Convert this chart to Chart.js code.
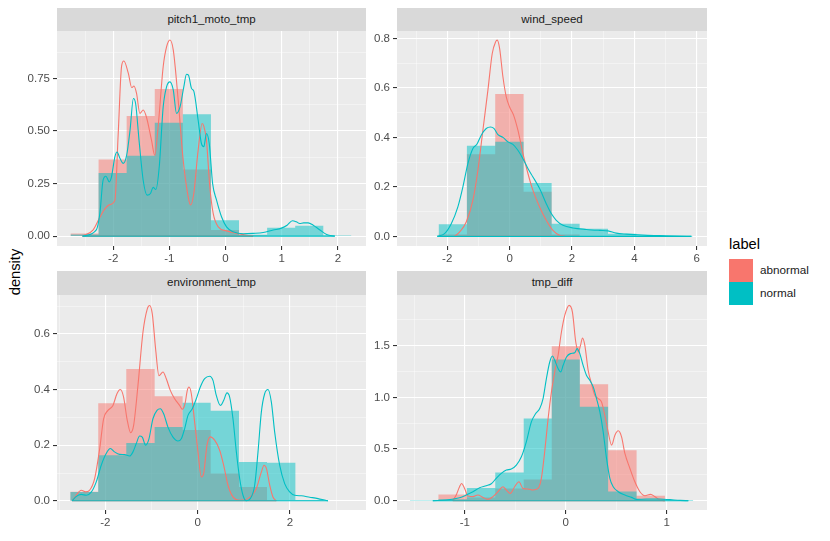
<!DOCTYPE html>
<html>
<head>
<meta charset="utf-8">
<script src="https://cdn.jsdelivr.net/npm/chart.js@4.4.1/dist/chart.umd.min.js"></script>
<style>
  body { margin: 0; background: #fff; width: 830px; height: 541px; position: relative; overflow: hidden;
         font-family: "Liberation Sans", Arial, sans-serif; }
  canvas { position: absolute; }
  .strip { position: absolute; background: #d9d9d9; color: #1a1a1a; font-size: 11.5px; text-align: center;
           height: 23.5px; line-height: 23.5px; }
  .ytitle { position: absolute; left: 15px; top: 272px; font-size: 14.7px; color: #000;
            transform: translate(-50%, -50%) rotate(-90deg); }
  .legtitle { position: absolute; left: 729px; top: 236px; font-size: 14.7px; color: #000; }
  .key { position: absolute; left: 729px; width: 22px; height: 21.5px; }
  .keylab { position: absolute; left: 760px; font-size: 11.7px; color: #1a1a1a; }
</style>
</head>
<body>
<div class="strip" style="left:57px;top:7.5px;width:309px">pitch1_moto_tmp</div>
<div class="strip" style="left:397px;top:7.5px;width:310px">wind_speed</div>
<div class="strip" style="left:57px;top:271px;width:309px">environment_tmp</div>
<div class="strip" style="left:397px;top:271px;width:310px">tmp_diff</div>
<div class="ytitle">density</div>
<div class="legtitle">label</div>
<div class="key" style="top:258.5px;background:#F8766D;border:0.5px solid rgba(248,118,109,0.5)"></div>
<div class="keylab" style="top:263px">abnormal</div>
<div class="key" style="top:281.5px;background:#00BFC4;border:0.5px solid rgba(0,191,196,0.5)"></div>
<div class="keylab" style="top:286px">normal</div>
<canvas id="p1"></canvas>
<canvas id="p2"></canvas>
<canvas id="p3"></canvas>
<canvas id="p4"></canvas>
<script>
// ---- pitch1_moto_tmp ----
const pitchEdges = [-2.76, -2.26, -1.76, -1.26, -0.76, -0.26, 0.24, 0.74, 1.24, 1.74, 2.24];
const pitchAbnormalHist = [0.013, 0.365, 0.571, 0.70, 0.317, 0.029, 0.003, 0, 0, 0];
const pitchNormalHist = [0.008, 0.30, 0.382, 0.54, 0.58, 0.076, 0.006, 0.04, 0.049, 0.003];
const pitchAbnormalDens = [[-2.546,0],[-2.356,0.03],[-2.237,0.09],[-2.148,0.13],[-2.06,0.15],[-1.97,0.17],[-1.91,0.49],[-1.85,0.81],[-1.81,0.833],[-1.73,0.774],[-1.67,0.707],[-1.63,0.714],[-1.585,0.68],[-1.525,0.584],[-1.466,0.60],[-1.41,0.568],[-1.318,0.457],[-1.26,0.385],[-1.2,0.52],[-1.11,0.806],[-1.05,0.90],[-0.99,0.933],[-0.93,0.885],[-0.843,0.647],[-0.754,0.362],[-0.665,0.187],[-0.624,0.148],[-0.565,0.203],[-0.488,0.409],[-0.416,0.536],[-0.387,0.523],[-0.34,0.457],[-0.28,0.235],[-0.22,0.108],[-0.13,0.044],[0.017,0.025],[0.195,0.013],[0.40,0.003],[0.49,0]];
const pitchNormalDens = [[-2.546,0],[-2.3,0.03],[-2.237,0.108],[-2.18,0.266],[-2.13,0.285],[-2.07,0.258],[-2.03,0.282],[-1.97,0.377],[-1.93,0.40],[-1.88,0.37],[-1.82,0.346],[-1.76,0.385],[-1.70,0.504],[-1.64,0.655],[-1.60,0.63],[-1.54,0.457],[-1.466,0.266],[-1.395,0.195],[-1.336,0.203],[-1.29,0.232],[-1.24,0.222],[-1.18,0.33],[-1.11,0.615],[-1.05,0.71],[-0.99,0.734],[-0.93,0.695],[-0.873,0.584],[-0.81,0.615],[-0.743,0.71],[-0.695,0.77],[-0.66,0.766],[-0.606,0.703],[-0.565,0.69],[-0.488,0.552],[-0.43,0.441],[-0.387,0.425],[-0.34,0.488],[-0.29,0.44],[-0.23,0.25],[-0.16,0.171],[-0.072,0.092],[0.017,0.044],[0.135,0.021],[0.313,0.011],[0.49,0.013],[0.67,0.017],[0.847,0.029],[0.995,0.038],[1.096,0.052],[1.19,0.073],[1.26,0.068],[1.32,0.06],[1.39,0.063],[1.47,0.063],[1.56,0.052],[1.68,0.029],[1.80,0.008],[1.944,0]];
const pitchXTicks = [-2, -1, 0, 1, 2];
const pitchXLabels = ['-2', '-1', '0', '1', '2'];
const pitchYTicks = [0, 0.25, 0.5, 0.75];
const pitchYLabels = ['0.00', '0.25', '0.50', '0.75'];

// ---- wind_speed ----
const windEdges = [-2.278, -1.369, -0.46, 0.449, 1.348, 2.246, 3.155, 4.064, 4.973, 5.882];
const windAbnormalHist = [0.007, 0.332, 0.575, 0.18, 0.007, 0, 0, 0, 0];
const windNormalHist = [0.049, 0.366, 0.382, 0.216, 0.051, 0.031, 0.011, 0.003, 0.001];
const windAbnormalDens = [[-1.765,0],[-1.60,0.018],[-1.39,0.058],[-1.176,0.146],[-1.016,0.267],[-0.856,0.429],[-0.695,0.591],[-0.556,0.739],[-0.449,0.786],[-0.396,0.793],[-0.32,0.76],[-0.214,0.645],[-0.107,0.564],[0,0.523],[0.128,0.49],[0.267,0.429],[0.428,0.335],[0.588,0.254],[0.749,0.186],[0.963,0.119],[1.176,0.065],[1.39,0.024],[1.604,0.004],[1.765,0]];
const windNormalDens = [[-2.32,0],[-2.085,0.011],[-1.87,0.051],[-1.658,0.119],[-1.497,0.20],[-1.337,0.294],[-1.176,0.355],[-1.048,0.372],[-0.909,0.409],[-0.749,0.436],[-0.61,0.442],[-0.503,0.436],[-0.374,0.411],[-0.214,0.40],[-0.053,0.382],[0.107,0.372],[0.267,0.348],[0.428,0.314],[0.588,0.274],[0.749,0.24],[0.963,0.193],[1.176,0.132],[1.337,0.092],[1.497,0.065],[1.711,0.045],[2.032,0.034],[2.46,0.028],[2.888,0.024],[3.155,0.022],[3.42,0.013],[3.743,0.009],[4.278,0.005],[4.81,0.003],[5.35,0.001],[5.83,0]];
const windXTicks = [-2, 0, 2, 4, 6];
const windXLabels = ['-2', '0', '2', '4', '6'];
const windYTicks = [0, 0.2, 0.4, 0.6, 0.8];
const windYLabels = ['0.0', '0.2', '0.4', '0.6', '0.8'];

// ---- environment_tmp ----
const envEdges = [-2.758, -2.152, -1.545, -0.931, -0.325, 0.282, 0.895, 1.502, 2.116, 2.73];
const envAbnormalHist = [0.033, 0.351, 0.474, 0.376, 0.255, 0.098, 0.05, 0, 0];
const envNormalHist = [0.032, 0.164, 0.208, 0.265, 0.353, 0.324, 0.14, 0.137, 0.003];
const envAbnormalDens = [[-2.715,0],[-2.63,0.02],[-2.52,0.038],[-2.426,0.032],[-2.34,0.038],[-2.23,0.08],[-2.12,0.188],[-2.036,0.295],[-1.942,0.325],[-1.834,0.343],[-1.747,0.385],[-1.675,0.40],[-1.603,0.373],[-1.53,0.295],[-1.45,0.245],[-1.386,0.271],[-1.292,0.415],[-1.184,0.606],[-1.09,0.69],[-1.04,0.702],[-0.982,0.672],[-0.91,0.546],[-0.838,0.45],[-0.751,0.463],[-0.679,0.439],[-0.592,0.397],[-0.498,0.367],[-0.39,0.343],[-0.332,0.329],[-0.274,0.349],[-0.224,0.397],[-0.188,0.409],[-0.137,0.385],[-0.065,0.283],[0.007,0.176],[0.079,0.086],[0.13,0.098],[0.202,0.20],[0.274,0.23],[0.368,0.218],[0.477,0.182],[0.563,0.128],[0.657,0.056],[0.765,0.014],[0.91,0.002],[1.09,0.008],[1.27,0.044],[1.38,0.104],[1.437,0.128],[1.49,0.116],[1.56,0.056],[1.63,0.014],[1.704,0]];
const envNormalDens = [[-2.715,0],[-2.64,0.014],[-2.52,0.023],[-2.41,0.02],[-2.30,0.032],[-2.195,0.068],[-2.087,0.128],[-1.98,0.17],[-1.89,0.188],[-1.80,0.176],[-1.69,0.167],[-1.58,0.166],[-1.473,0.161],[-1.40,0.176],[-1.328,0.206],[-1.256,0.233],[-1.199,0.229],[-1.126,0.20],[-1.054,0.223],[-0.968,0.295],[-0.88,0.325],[-0.809,0.331],[-0.736,0.313],[-0.643,0.265],[-0.534,0.229],[-0.426,0.215],[-0.354,0.223],[-0.282,0.259],[-0.209,0.307],[-0.116,0.331],[-0.029,0.367],[0.058,0.409],[0.152,0.439],[0.26,0.448],[0.332,0.433],[0.404,0.379],[0.491,0.343],[0.563,0.361],[0.635,0.388],[0.693,0.373],[0.765,0.295],[0.838,0.176],[0.91,0.08],[0.982,0.02],[1.054,0],[1.14,0.008],[1.235,0.056],[1.307,0.176],[1.379,0.319],[1.451,0.385],[1.523,0.40],[1.596,0.355],[1.668,0.247],[1.776,0.128],[1.884,0.062],[1.993,0.032],[2.1,0.02],[2.245,0.018],[2.426,0.013],[2.606,0.008],[2.787,0.001],[2.823,0]];
const envXTicks = [-2, 0, 2];
const envXLabels = ['-2', '0', '2'];
const envYTicks = [0, 0.2, 0.4, 0.6];
const envYLabels = ['0.0', '0.2', '0.4', '0.6'];

// ---- tmp_diff ----
const diffEdges = [-1.544, -1.262, -0.98, -0.699, -0.417, -0.139, 0.139, 0.42, 0.702, 0.983, 1.264];
const diffAbnormalHist = [0, 0.06, 0.032, 0.119, 0.206, 1.494, 1.127, 0.489, 0.048, 0];
const diffNormalHist = [0.004, 0.013, 0.122, 0.274, 0.795, 1.365, 0.908, 0.09, 0.013, 0.006];
const diffAbnormalDens = [[-1.12,0],[-1.086,0.055],[-1.053,0.135],[-1.033,0.167],[-1.003,0.119],[-0.97,0.045],[-0.92,0.039],[-0.871,0.055],[-0.821,0.032],[-0.772,0.013],[-0.722,0.039],[-0.672,0.087],[-0.623,0.135],[-0.589,0.103],[-0.55,0.071],[-0.507,0.135],[-0.464,0.183],[-0.424,0.119],[-0.374,0.113],[-0.325,0.103],[-0.275,0.119],[-0.242,0.216],[-0.209,0.473],[-0.175,0.795],[-0.142,1.053],[-0.109,1.246],[-0.076,1.407],[-0.043,1.632],[-0.01,1.793],[0.033,1.89],[0.066,1.825],[0.099,1.535],[0.126,1.439],[0.146,1.503],[0.166,1.574],[0.189,1.503],[0.222,1.262],[0.255,1.133],[0.288,1.02],[0.321,0.988],[0.354,0.956],[0.387,0.827],[0.42,0.666],[0.454,0.538],[0.487,0.634],[0.52,0.676],[0.553,0.618],[0.586,0.457],[0.636,0.312],[0.685,0.183],[0.735,0.087],[0.785,0.048],[0.841,0.061],[0.884,0.039],[0.934,0.006],[0.983,0]];
const diffNormalDens = [[-1.318,0],[-1.185,0.006],[-1.053,0.029],[-0.987,0.055],[-0.92,0.087],[-0.854,0.126],[-0.788,0.145],[-0.738,0.164],[-0.689,0.216],[-0.639,0.264],[-0.589,0.296],[-0.54,0.306],[-0.49,0.344],[-0.44,0.425],[-0.391,0.57],[-0.341,0.763],[-0.298,0.843],[-0.258,0.892],[-0.225,0.988],[-0.192,1.181],[-0.159,1.342],[-0.132,1.40],[-0.109,1.358],[-0.076,1.278],[-0.05,1.246],[-0.026,1.31],[0.007,1.39],[0.046,1.423],[0.089,1.432],[0.113,1.471],[0.139,1.423],[0.172,1.31],[0.205,1.214],[0.238,1.165],[0.272,1.101],[0.305,0.988],[0.338,0.859],[0.371,0.666],[0.404,0.409],[0.437,0.216],[0.47,0.135],[0.52,0.087],[0.586,0.055],[0.652,0.032],[0.702,0.013],[0.801,0.016],[0.934,0.016],[1.033,0.01],[1.132,0.003],[1.215,0]];
const diffXTicks = [-1, 0, 1];
const diffXLabels = ['-1', '0', '1'];
const diffYTicks = [0, 0.5, 1.0, 1.5];
const diffYLabels = ['0.0', '0.5', '1.0', '1.5'];

const RED = '#F8766D', TEAL = '#00BFC4';
const RED_FILL = 'rgba(248,118,109,0.5)', TEAL_FILL = 'rgba(0,191,196,0.5)';
const AXW = 44, AXH = 22, PAD = 10;
const FONT = { family: '"Liberation Sans", Arial, sans-serif', size: 11.5 };

const panels = [
  { id: 'p1', left: 57, top: 31, w: 309, h: 215, xMin: -3.0, xMax: 2.5, yMin: -0.047, yMax: 0.976,
    xTicks: pitchXTicks, xLabels: pitchXLabels, xMinor: [-2.5, -1.5, -0.5, 0.5, 1.5],
    yTicks: pitchYTicks, yLabels: pitchYLabels, yMinor: [0.125, 0.375, 0.625, 0.875],
    edges: pitchEdges, abn: pitchAbnormalHist, nor: pitchNormalHist, abnD: pitchAbnormalDens, norD: pitchNormalDens },
  { id: 'p2', left: 397, top: 31, w: 310, h: 215, xMin: -3.61, xMax: 6.33, yMin: -0.039, yMax: 0.83,
    xTicks: windXTicks, xLabels: windXLabels, xMinor: [-3, -1, 1, 3, 5],
    yTicks: windYTicks, yLabels: windYLabels, yMinor: [0.1, 0.3, 0.5, 0.7],
    edges: windEdges, abn: windAbnormalHist, nor: windNormalHist, abnD: windAbnormalDens, norD: windNormalDens },
  { id: 'p3', left: 57, top: 294.5, w: 309, h: 215, xMin: -3.045, xMax: 3.645, yMin: -0.033, yMax: 0.74,
    xTicks: envXTicks, xLabels: envXLabels, xMinor: [-3, -1, 1, 3],
    yTicks: envYTicks, yLabels: envYLabels, yMinor: [0.1, 0.3, 0.5, 0.7],
    edges: envEdges, abn: envAbnormalHist, nor: envNormalHist, abnD: envAbnormalDens, norD: envNormalDens },
  { id: 'p4', left: 397, top: 294.5, w: 310, h: 215, xMin: -1.673, xMax: 1.4, yMin: -0.09, yMax: 1.99,
    xTicks: diffXTicks, xLabels: diffXLabels, xMinor: [-1.5, -0.5, 0.5],
    yTicks: diffYTicks, yLabels: diffYLabels, yMinor: [0.25, 0.75, 1.25, 1.75],
    edges: diffEdges, abn: diffAbnormalHist, nor: diffNormalHist, abnD: diffAbnormalDens, norD: diffNormalDens }
];

function histPoints(edges, heights) {
  const pts = [{ x: edges[0], y: 0 }];
  edges.forEach((e, i) => pts.push({ x: e, y: i < heights.length ? heights[i] : 0 }));
  return pts;
}
const densPoints = pairs => pairs.map(p => ({ x: p[0], y: p[1] }));
const basePoints = pairs => [{ x: pairs[0][0], y: 0 }, { x: pairs[pairs.length - 1][0], y: 0 }];

const isMajor = (list, v) => list.some(t => Math.abs(t - v) < 1e-9);

function axis(p, which) {
  const major = which === 'x' ? p.xTicks : p.yTicks;
  const minor = which === 'x' ? p.xMinor : p.yMinor;
  const labels = which === 'x' ? p.xLabels : p.yLabels;
  return {
    type: 'linear',
    min: which === 'x' ? p.xMin : p.yMin,
    max: which === 'x' ? p.xMax : p.yMax,
    afterBuildTicks: s => {
      s.ticks = major.concat(minor).sort((a, b) => a - b).map(v => ({ value: v }));
    },
    afterFit: s => {
      if (which === 'x') s.height = AXH; else s.width = AXW;
    },
    border: { display: false },
    grid: {
      color: c => isMajor(major, c.tick.value) ? '#ffffff' : 'rgba(255,255,255,0.75)',
      lineWidth: c => isMajor(major, c.tick.value) ? 1.1 : 0.55,
      tickColor: c => isMajor(major, c.tick.value) ? '#333333' : 'rgba(0,0,0,0)',
      tickWidth: 1.1,
      tickLength: 4
    },
    ticks: {
      autoSkip: false,
      maxRotation: 0,
      padding: which === 'x' ? 2 : 3,
      color: '#4d4d4d',
      font: FONT,
      callback: v => {
        const i = major.findIndex(t => Math.abs(t - v) < 1e-9);
        return i >= 0 ? labels[i] : '';
      }
    }
  };
}

const panelBg = {
  id: 'panelBg',
  beforeDraw(chart) {
    const a = chart.chartArea;
    chart.ctx.save();
    chart.ctx.fillStyle = '#ebebeb';
    chart.ctx.fillRect(a.left, a.top, a.right - a.left, a.bottom - a.top);
    chart.ctx.restore();
  }
};

panels.forEach(p => {
  const cv = document.getElementById(p.id);
  cv.width = p.w + AXW + PAD;
  cv.height = p.h + PAD + AXH;
  cv.style.left = (p.left - AXW) + 'px';
  cv.style.top = (p.top - PAD) + 'px';
  cv.style.width = cv.width + 'px';
  cv.style.height = cv.height + 'px';

  const line = (data, color, order) => ({
    data, borderColor: color, borderWidth: 1.1, pointRadius: 0, fill: false,
    cubicInterpolationMode: 'monotone', tension: 0.4, order
  });
  const hist = (data, color, order) => ({
    data, backgroundColor: color, borderColor: 'rgba(0,0,0,0)', borderWidth: 0,
    pointRadius: 0, fill: 'origin', stepped: true, order
  });

  new Chart(cv, {
    type: 'line',
    data: {
      datasets: [
        line(densPoints(p.norD), TEAL, 0),
        line(basePoints(p.norD), TEAL, 1),
        line(densPoints(p.abnD), RED, 2),
        line(basePoints(p.abnD), RED, 3),
        hist(histPoints(p.edges, p.nor), TEAL_FILL, 4),
        hist(histPoints(p.edges, p.abn), RED_FILL, 5)
      ]
    },
    options: {
      responsive: false,
      animation: false,
      layout: { padding: { top: PAD, right: PAD, left: 0, bottom: 0 } },
      plugins: { legend: { display: false }, tooltip: { enabled: false } },
      scales: { x: axis(p, 'x'), y: axis(p, 'y') }
    },
    plugins: [panelBg]
  });
});
</script>
</body>
</html>
